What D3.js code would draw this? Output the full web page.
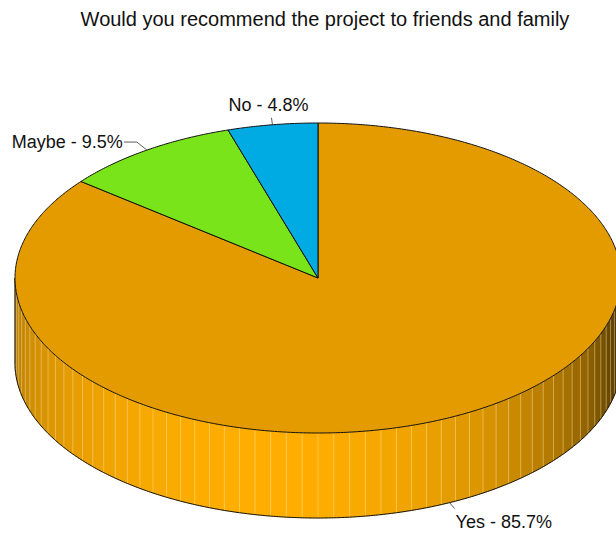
<!DOCTYPE html>
<html>
<head>
<meta charset="utf-8">
<script src="https://cdn.jsdelivr.net/npm/d3@7"></script>
<style>
  html, body { margin: 0; padding: 0; background: #fff; }
  svg { display: block; }
  text { font-family: "Liberation Sans", Arial, sans-serif; fill: #111; }
</style>
</head>
<body>
<svg id="chart" width="616" height="533"></svg>
<script>
// Survey answers
const categories = ["Yes", "Maybe", "No"];
const values = [85.7, 9.5, 4.8];
const topColors = ["#E39B00", "#7AE41A", "#00AAE2"];
const sideColors = ["#FFAE00", "#6CCB14", "#0097C9"];
const title = "Would you recommend the project to friends and family";

const W = 616, H = 533;
const cx = 318, cy = 278, rx = 303, ry = 155, depth = 85;

const svg = d3.select("#chart");

const pie = d3.pie().sort(null).value(d => d);
const arcs = pie(values).map((a, i) => ({ ...a, i }));

// angle (clockwise from 12 o'clock) -> point on the top ellipse, optionally dropped by dz
const px = d3.scaleLinear().domain([-1, 1]).range([cx - rx, cx + rx]);
const py = d3.scaleLinear().domain([-1, 1]).range([cy - ry, cy + ry]);
const pt = (t, dz = 0) => [px(Math.sin(t)), py(-Math.cos(t)) + dz];
const line = d3.line();

function arcPoints(a0, a1, dz = 0) {
  const n = Math.max(2, Math.ceil((a1 - a0) / (Math.PI / 360)));
  return d3.range(n + 1).map(k => pt(a0 + (a1 - a0) * k / n, dz));
}

// lighting along the rim: brightest at the front-left, falling off faster to the right
function shade(base, t) {
  const t0 = 3.3;
  const d = t - t0;
  const k = d < 0 ? 0.28 : 0.16;
  const f = Math.max(0.25, Math.min(1, 1 - k * d * d));
  const c = d3.rgb(base);
  return d3.rgb(c.r * f, c.g * f, c.b * f).formatHex();
}

// ---- side wall (only the front half of the rim is visible)
const sideG = svg.append("g");
const step = Math.PI / 60;
arcs.forEach(a => {
  const s0 = Math.max(a.startAngle, Math.PI / 2);
  const s1 = Math.min(a.endAngle, 3 * Math.PI / 2);
  if (s1 <= s0) return;
  const facets = [];
  for (let t = Math.PI / 2; t < s1 - 1e-9; t += step) {
    const t0 = Math.max(t, s0), t1 = Math.min(t + step, s1);
    if (t1 > t0) facets.push([t0, t1]);
  }
  facets.forEach(([t0, t1]) => {
    const poly = [...arcPoints(t0, t1), ...arcPoints(t0, t1, depth).reverse()];
    const col = shade(sideColors[a.i], (t0 + t1) / 2);
    sideG.append("path")
      .attr("d", line(poly) + "Z")
      .attr("fill", col)
      .attr("stroke", col)
      .attr("stroke-width", 0.6);
  });
  // facet seams
  facets.slice(1).forEach(([t0]) => {
    sideG.append("path")
      .attr("d", line([pt(t0), pt(t0, depth)]))
      .attr("stroke", "rgba(255,235,180,0.4)")
      .attr("stroke-width", 1);
  });
});

// outline of the wall: bottom rim and the two vertical ends
sideG.append("path")
  .attr("d", line(arcPoints(Math.PI / 2, 3 * Math.PI / 2, depth)))
  .attr("fill", "none").attr("stroke", "#111").attr("stroke-width", 1);
[Math.PI / 2, 3 * Math.PI / 2].forEach(t => {
  sideG.append("path")
    .attr("d", line([pt(t), pt(t, depth)]))
    .attr("stroke", "#111").attr("stroke-width", 1);
});

// ---- top face slices
const topG = svg.append("g");
arcs.forEach(a => {
  const poly = [[cx, cy], ...arcPoints(a.startAngle, a.endAngle)];
  topG.append("path")
    .attr("d", line(poly) + "Z")
    .attr("fill", topColors[a.i])
    .attr("stroke", "#111")
    .attr("stroke-width", 1)
    .attr("stroke-linejoin", "round");
});

// ---- labels with leader lines
const fmt = v => `${v.toFixed(1)}%`;
const labelG = svg.append("g");
arcs.forEach(a => {
  const mid = (a.startAngle + a.endAngle) / 2;
  const front = Math.cos(mid) < 0;
  const [x0, y0] = pt(mid, front ? depth : 0);
  const txt = `${categories[a.i]} - ${fmt(a.value)}`;
  let pts, tx, ty, anchor;
  if (a.i === 0) {          // below the wall, to the right
    pts = [[x0, y0], [x0 + 5, y0 + 6]];
    tx = x0 + 6; ty = y0 + 25; anchor = "start";
  } else if (a.i === 1) {   // to the left
    pts = [[x0, y0], [x0 - 10, y0 - 8], [x0 - 23, y0 - 8]];
    tx = x0 - 24; ty = y0 - 2; anchor = "end";
  } else {                  // above
    pts = [[x0, y0], [x0 - 1, y0 - 7]];
    tx = x0 - 4; ty = y0 - 14; anchor = "middle";
  }
  labelG.append("path")
    .attr("d", line(pts))
    .attr("fill", "none").attr("stroke", "#333").attr("stroke-width", 0.8);
  labelG.append("text")
    .attr("x", tx).attr("y", ty)
    .attr("text-anchor", anchor)
    .attr("font-size", 18)
    .text(txt);
});

// ---- title
svg.append("text")
  .attr("x", 325).attr("y", 26)
  .attr("text-anchor", "middle")
  .attr("font-size", 20)
  .text(title);
</script>
</body>
</html>
